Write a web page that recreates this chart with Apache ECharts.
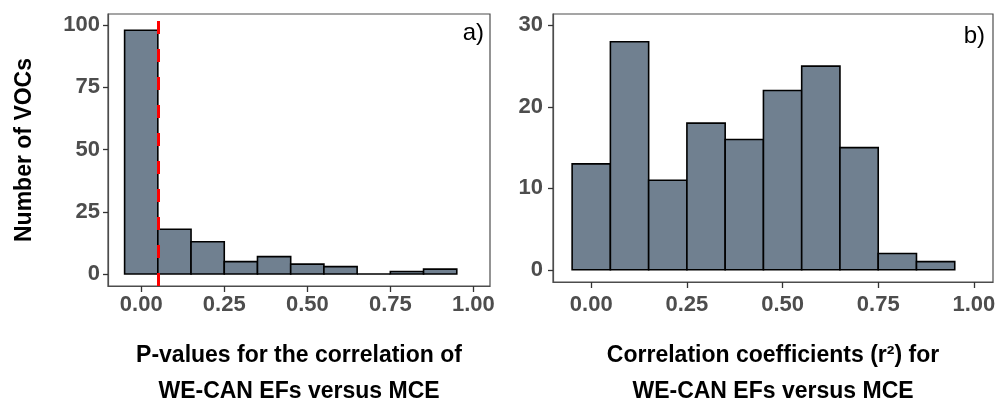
<!DOCTYPE html>
<html>
<head>
<meta charset="utf-8">
<script src="https://cdn.jsdelivr.net/npm/echarts@6/dist/echarts.min.js"></script>
<style>html,body{margin:0;padding:0;background:#fff}#c{width:998px;height:406px}</style>
</head>
<body>
<div id="c"></div>
<script>
// ---- data ----
const binStarts = [-0.05, 0.05, 0.15, 0.25, 0.35, 0.45, 0.55, 0.65, 0.75, 0.85];
const binWidth = 0.1;
const pValueCounts = [98, 18, 13, 5, 7, 4, 3, 0, 1, 2];
const r2Counts = [13, 28, 11, 18, 16, 22, 25, 15, 2, 1];
const pThreshold = 0.05;
const xTicks = [0, 0.25, 0.5, 0.75, 1.0];
const xTickLabels = ['0.00', '0.25', '0.50', '0.75', '1.00'];
const yTicksA = [0, 25, 50, 75, 100];
const yTicksB = [0, 10, 20, 30];
const xTitleA = 'P-values for the correlation of\nWE-CAN EFs versus MCE';
const xTitleB = 'Correlation coefficients (r\u00B2) for\nWE-CAN EFs versus MCE';
const yTitle = 'Number of VOCs';

const FONT = 'Liberation Sans, Arial, sans-serif';
const fill = '#708090';
const frame = '#4d4d4d';

function histData(counts) {
  return binStarts.map((s, i) => [s, s + binWidth, counts[i]]);
}
function renderBar(params, api) {
  const p0 = api.coord([api.value(0), api.value(2)]);
  const p1 = api.coord([api.value(1), 0]);
  return {
    type: 'rect',
    shape: { x: p0[0], y: p0[1], width: p1[0] - p0[0], height: p1[1] - p0[1] },
    style: { fill: fill, stroke: '#000', lineWidth: 1.6 }
  };
}
function xAxisCfg(idx, name, margin, gap) {
  return {
    type: 'value', gridIndex: idx, min: -0.1, max: 1.05,
    axisLine: { show: true, onZero: false, lineStyle: { color: frame, width: 1.2 } },
    axisTick: { show: true, inside: false, length: 6, customValues: xTicks, lineStyle: { color: '#333', width: 1.3 } },
    axisLabel: {
      customValues: xTicks, margin: margin,
      formatter: v => xTickLabels[xTicks.findIndex(t => Math.abs(t - v) < 1e-9)],
      color: '#4d4d4d', fontWeight: 'bold', fontSize: 22, fontFamily: FONT
    },
    splitLine: { show: false },
    name: name, nameLocation: 'middle', nameGap: gap,
    nameTextStyle: { color: '#000', fontWeight: 'bold', fontSize: 23, fontFamily: FONT, lineHeight: 36 }
  };
}
function yAxisCfg(idx, min, max, ticks, name, margin) {
  const o = {
    type: 'value', gridIndex: idx, min: min, max: max,
    axisLine: { show: true, onZero: false, lineStyle: { color: frame, width: 1.2 } },
    axisTick: { show: true, inside: false, length: 5, customValues: ticks, lineStyle: { color: '#333', width: 1.3 } },
    axisLabel: { customValues: ticks, margin: margin, color: '#4d4d4d', fontWeight: 'bold', fontSize: 22, fontFamily: FONT },
    splitLine: { show: false }
  };
  if (name) {
    Object.assign(o, {
      name: name, nameLocation: 'middle', nameRotate: 90, nameGap: 72,
      nameTextStyle: { color: '#000', fontWeight: 'bold', fontSize: 23, fontFamily: FONT }
    });
  }
  return o;
}

const chart = echarts.init(document.getElementById('c'), null, { renderer: 'canvas' });
chart.setOption({
  backgroundColor: '#fff',
  animation: false,
  grid: [
    { left: 108, top: 14, width: 382, height: 272, outerBoundsMode: 'none', containLabel: false, show: true, borderColor: frame, borderWidth: 1.2, backgroundColor: 'transparent' },
    { left: 553, top: 14, width: 440, height: 268, outerBoundsMode: 'none', containLabel: false, show: true, borderColor: frame, borderWidth: 1.2, backgroundColor: 'transparent' }
  ],
  xAxis: [xAxisCfg(0, xTitleA, 8, 52), xAxisCfg(1, xTitleB, 12, 56)],
  yAxis: [yAxisCfg(0, -4.8, 104.5, yTicksA, yTitle, 8), yAxisCfg(1, -1.5, 31.4, yTicksB, null, 10)],
  series: [
    {
      type: 'custom', xAxisIndex: 0, yAxisIndex: 0, data: histData(pValueCounts),
      renderItem: renderBar, encode: { x: [0, 1], y: 2 },
      markLine: {
        silent: true, symbol: 'none', z: 10,
        label: { show: false },
        lineStyle: { color: '#ff0000', width: 3, type: [13, 15] },
        data: [{ xAxis: pThreshold }]
      }
    },
    {
      type: 'custom', xAxisIndex: 1, yAxisIndex: 1, data: histData(r2Counts),
      renderItem: renderBar, encode: { x: [0, 1], y: 2 }
    }
  ],
  graphic: [
    { type: 'text', right: 998 - 484, top: 21, style: { text: 'a)', font: '24px ' + FONT, fill: '#000' } },
    { type: 'text', right: 998 - 985, top: 24, style: { text: 'b)', font: '24px ' + FONT, fill: '#000' } }
  ]
});
</script>
</body>
</html>
